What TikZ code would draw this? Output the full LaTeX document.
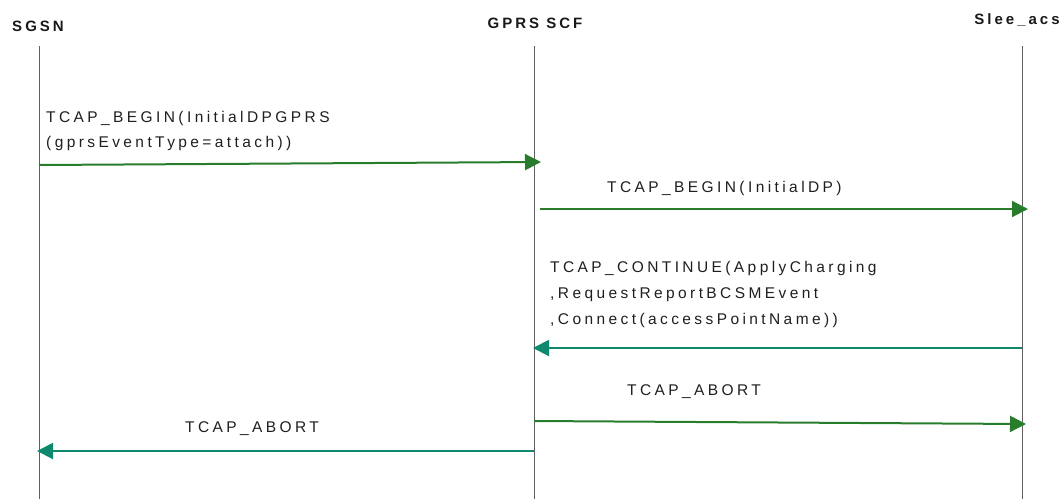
\documentclass[tikz,border=0pt]{standalone}
\usepackage{fontspec}
\setmainfont{Liberation Sans}
\newfontfamily\lblfont[LetterSpace=22]{Liberation Sans}
\newfontfamily\hdrfont[LetterSpace=20]{Liberation Sans}
\usetikzlibrary{arrows.meta}
\definecolor{msggreen}{RGB}{40,125,45}
\definecolor{msgteal}{RGB}{14,137,110}
\definecolor{lifegray}{RGB}{95,95,95}
\begin{document}
\begin{tikzpicture}[x=1pt,y=-1pt,
  lifeline/.style={draw=lifegray, line width=0.9pt},
  hdr/.style={anchor=base, inner sep=0pt, font=\hdrfont\fontsize{15}{17}\selectfont\bfseries, text=black!90},
  lbl/.style={anchor=base west, inner sep=0pt, font=\lblfont\fontsize{15.5}{17}\selectfont, text=black!88},
  greenmsg/.style={draw=msggreen, line width=2pt, -{Triangle[length=16pt,width=16pt]}},
  tealmsg/.style={draw=msgteal, line width=2pt, -{Triangle[length=16pt,width=16pt]}}]
\useasboundingbox (0,0) rectangle (1064,499);
% headers
\node[hdr] (hSGSN) at (38,31) {SGSN};
\node[hdr] (hSCF) at (535,28) {GPRS SCF};
\node[hdr] (hSLEE) at (1017,24) {Slee\_acs};
% lifelines
\coordinate (aTop) at (39,46);  \coordinate (aBot) at (39,499);
\coordinate (bTop) at (534,46); \coordinate (bBot) at (534,499);
\coordinate (cTop) at (1022,46);\coordinate (cBot) at (1022,499);
\draw[lifeline] (aTop) -- (aBot);
\draw[lifeline] (bTop) -- (bBot);
\draw[lifeline] (cTop) -- (cBot);
% message end points
\coordinate (m1s) at (39,165);  \coordinate (m1e) at (541,162);
\coordinate (m2s) at (540,209); \coordinate (m2e) at (1028,209);
\coordinate (m3s) at (1022,348);\coordinate (m3e) at (533,348);
\coordinate (m4s) at (534,421); \coordinate (m4e) at (1026,424);
\coordinate (m5s) at (534,451); \coordinate (m5e) at (37,451);
\draw[greenmsg] (m1s) -- (m1e);
\draw[greenmsg] (m2s) -- (m2e);
\draw[tealmsg] (m3s) -- (m3e);
\draw[greenmsg] (m4s) -- (m4e);
\draw[tealmsg] (m5s) -- (m5e);
% labels
\node[lbl] (l1a) at (46,122) {TCAP\_BEGIN(InitialDPGPRS};
\node[lbl] (l1b) at (46,147) {(gprsEventType=attach))};
\node[lbl] (l2) at (607,192) {TCAP\_BEGIN(InitialDP)};
\node[lbl] (l3a) at (550,272) {TCAP\_CONTINUE(ApplyCharging};
\node[lbl] (l3b) at (550,298) {,RequestReportBCSMEvent};
\node[lbl] (l3c) at (550,324) {,Connect(accessPointName))};
\node[lbl] (l4) at (627,395) {TCAP\_ABORT};
\node[lbl] (l5) at (185,432) {TCAP\_ABORT};
\end{tikzpicture}
\end{document}
